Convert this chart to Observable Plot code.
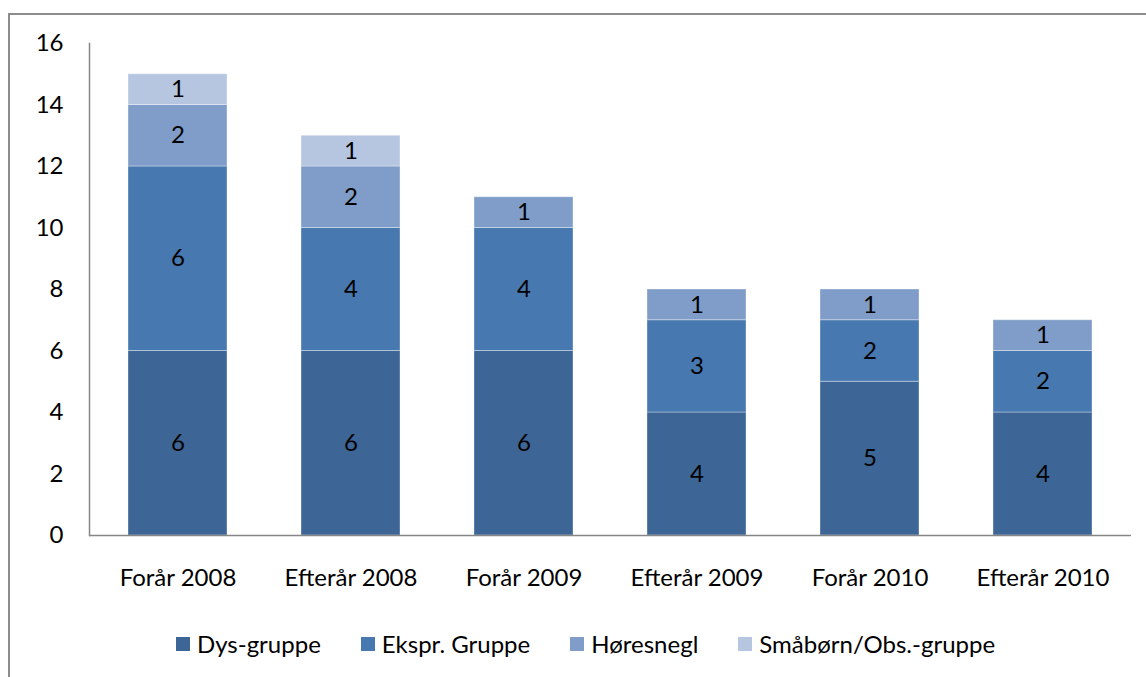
<!DOCTYPE html>
<html>
<head>
<meta charset="utf-8">
<script src="https://cdn.jsdelivr.net/npm/d3@7"></script>
<script src="https://cdn.jsdelivr.net/npm/@observablehq/plot@0.6"></script>
<style>
  body { margin: 0; background: #fff; font-family: Lato, "Noto Sans", sans-serif; }
  #border { position: absolute; left: 8px; top: 13px; width: 1300px; height: 800px; border: 2px solid #8c8c8c; box-sizing: border-box; }
  #chart { position: absolute; left: 0; top: 0; }
  #legend { position: absolute; left: 176px; top: 629px; display: flex; gap: 40px; font-size: 24px; color: #000; white-space: nowrap; }
  #legend .item { display: flex; align-items: center; }
  #legend .sw { width: 14px; height: 14px; margin-right: 7px; }
</style>
</head>
<body>
<div id="border"></div>
<div id="chart"></div>
<div id="legend"></div>
<script>
const categories = ["Forår 2008", "Efterår 2008", "Forår 2009", "Efterår 2009", "Forår 2010", "Efterår 2010"];
const seriesNames = ["Dys-gruppe", "Ekspr. Gruppe", "Høresnegl", "Småbørn/Obs.-gruppe"];
const dys = [6, 6, 6, 4, 5, 4];
const ekspr = [6, 4, 4, 3, 2, 2];
const horesnegl = [2, 2, 1, 1, 1, 1];
const smaborn = [1, 1, 0, 0, 0, 0];
const colors = ["#3d6596", "#4878b0", "#7f9dc8", "#b6c5e0"];
const yTicks = [0, 2, 4, 6, 8, 10, 12, 14, 16];

const seriesValues = [dys, ekspr, horesnegl, smaborn];
const data = [];
seriesNames.forEach((s, i) => {
  categories.forEach((c, j) => {
    const v = seriesValues[i][j];
    if (v > 0) data.push({category: c, series: s, value: v});
  });
});

const chart = Plot.plot({
  width: 1146,
  height: 610,
  marginTop: 43,
  marginBottom: 75,
  marginLeft: 89,
  marginRight: 15,
  style: {fontFamily: "Lato, 'Noto Sans', sans-serif", fontSize: "24px", color: "#000", background: "transparent"},
  x: {domain: categories, paddingInner: 0.75 / 1.75, paddingOuter: 0.75 / 3.5, label: null},
  y: {domain: [0, 16], label: null},
  color: {domain: seriesNames, range: colors},
  marks: [
    Plot.barY(data, Plot.stackY({x: "category", y: "value", fill: "series", order: seriesNames, stroke: "white", strokeOpacity: 0.35, strokeWidth: 1})),
    Plot.text(data, Plot.stackY({x: "category", y: "value", z: "series", order: seriesNames, text: d => String(d.value), fill: "#000", fontSize: 24})),
    Plot.axisX({tickSize: 0, tickPadding: 33, fontSize: 24, label: null}),
    Plot.axisY({ticks: yTicks, tickSize: 0, tickPadding: 26, fontSize: 24, label: null}),
    Plot.ruleY([0], {stroke: "#868686", strokeWidth: 1.5}),
    Plot.frame({anchor: "left", stroke: "#868686", strokeWidth: 1.5})
  ]
});
document.getElementById("chart").appendChild(chart);

const legend = document.getElementById("legend");
seriesNames.forEach((s, i) => {
  const item = document.createElement("div");
  item.className = "item";
  const sw = document.createElement("span");
  sw.className = "sw";
  sw.style.background = colors[i];
  const t = document.createElement("span");
  t.textContent = s;
  item.appendChild(sw);
  item.appendChild(t);
  legend.appendChild(item);
});
</script>
</body>
</html>
